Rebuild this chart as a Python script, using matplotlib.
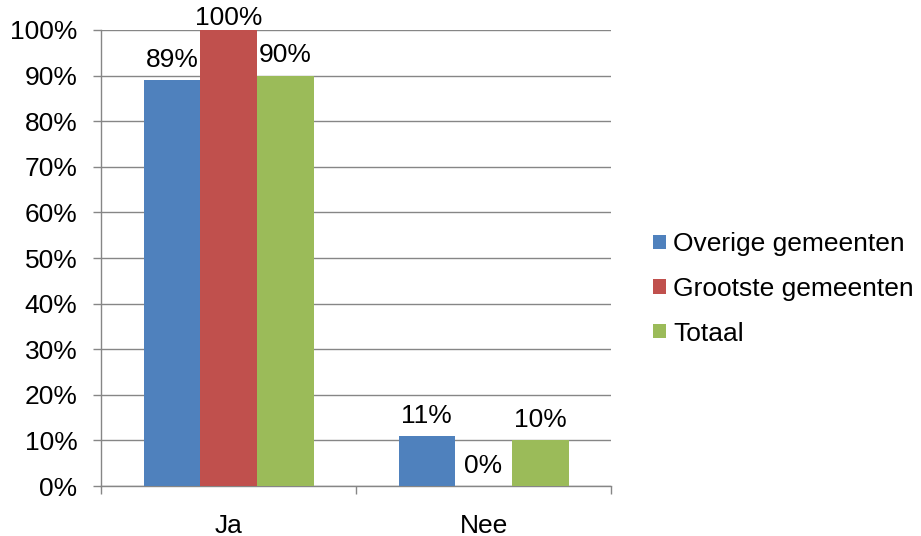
import matplotlib
matplotlib.use("Agg")
import matplotlib.pyplot as plt
import numpy as np

categories = ["Ja", "Nee"]
series_names = ["Overige gemeenten", "Grootste gemeenten", "Totaal"]
overige = [89, 11]
grootste = [100, 0]
totaal = [90, 10]
labels_overige = ["89%", "11%"]
labels_grootste = ["100%", "0%"]
labels_totaal = ["90%", "10%"]
yticks = [0, 10, 20, 30, 40, 50, 60, 70, 80, 90, 100]
ytick_labels = ["0%", "10%", "20%", "30%", "40%", "50%", "60%", "70%", "80%", "90%", "100%"]

colors = ["#4F81BD", "#C0504D", "#9BBB59"]
plt.rcParams['font.family'] = ['Liberation Sans', 'DejaVu Sans']
FS = 19

fig = plt.figure(figsize=(9.21, 5.36), dpi=100)
ax = fig.add_axes([101/921, 50/536, 510/921, 456/536])

x = np.arange(len(categories))
bw = 1/4.5
data = [overige, grootste, totaal]
labs = [labels_overige, labels_grootste, labels_totaal]
for i, (vals, lab) in enumerate(zip(data, labs)):
    pos = x + (i - 1) * bw
    ax.bar(pos, vals, width=bw, color=colors[i], label=series_names[i], zorder=3)
    for p, v, t in zip(pos, vals, lab):
        off = 0 if v >= 100 else 6
        ax.annotate(t, (p, v), xytext=(0, off), textcoords="offset points",
                    ha="center", va="bottom", fontsize=FS, zorder=4,
                    annotation_clip=False)

ax.set_xlim(-0.5, 1.5)
ax.set_ylim(0, 100)
ax.set_yticks(yticks)
ax.set_yticklabels(ytick_labels, fontsize=FS)
ax.set_xticks(x)
ax.set_xticklabels(categories, fontsize=FS)
ax.set_xticks([-0.5, 0.5, 1.5], minor=True)
ax.tick_params(axis="x", which="major", length=0, pad=20)
ax.tick_params(axis="x", which="minor", length=6, color="#868686", width=1)
ax.tick_params(axis="y", length=6, color="#868686", width=1, pad=11)
ax.yaxis.grid(True, color="#868686", linewidth=1, zorder=0)
for s in ["top", "right"]:
    ax.spines[s].set_visible(False)
for s in ["left", "bottom"]:
    ax.spines[s].set_color("#868686")
    ax.spines[s].set_linewidth(1)

leg = fig.legend(loc="center left", bbox_to_anchor=(653/921, 1 - 289/536), frameon=False,
                 fontsize=FS, handlelength=0.5, handleheight=0.46, handletextpad=0.27,
                 labelspacing=0.78, borderaxespad=0, borderpad=0)

fig.savefig("out.png", dpi=100)
